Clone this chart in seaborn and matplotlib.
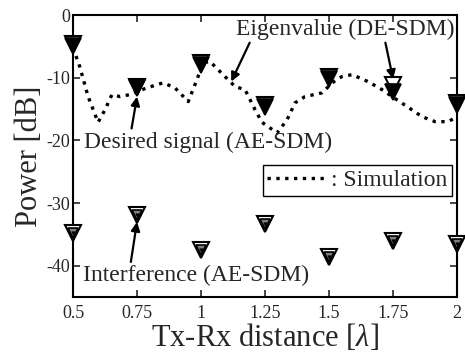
import matplotlib
matplotlib.use("Agg")
import matplotlib.pyplot as plt
import seaborn as sns
import pandas as pd

# Tx-Rx distance (wavelengths) at which the measured markers sit
distance = [0.5, 0.75, 1.0, 1.25, 1.5, 1.75, 2.0]
desired_ae = [-5.0, -11.7, -8.0, -14.6, -10.2, -12.2, -14.4]
eigen_de = [-4.6, -11.4, -7.7, -14.3, -9.8, -11.1, -14.1]
interference_ae = [-34.8, -31.9, -37.5, -33.3, -38.6, -36.0, -36.6]

# simulated eigenvalue curve
sim_distance = [0.50, 0.527, 0.559, 0.598, 0.625, 0.652, 0.684, 0.72, 0.789,
                0.852, 0.898, 0.95, 0.984, 1.008, 1.035, 1.086, 1.133, 1.172,
                1.211, 1.238, 1.297, 1.336, 1.367, 1.406, 1.473, 1.512, 1.55,
                1.59, 1.652, 1.707, 1.746, 1.805, 1.863, 1.914, 1.965, 2.0]
sim_power = [-5.2, -8.3, -13.0, -17.1, -15.1, -12.7, -13.0, -12.7, -11.6,
             -10.8, -11.6, -13.8, -10.3, -7.6, -7.4, -9.5, -11.4, -11.9,
             -15.1, -17.1, -18.8, -16.7, -14.0, -13.0, -12.4, -10.8, -9.8,
             -9.5, -10.6, -11.9, -13.0, -14.6, -16.2, -17.0, -17.0, -16.2]

xticks = [0.5, 0.75, 1.0, 1.25, 1.5, 1.75, 2.0]
xticklabels = ["0.5", "0.75", "1", "1.25", "1.5", "1.75", "2"]
yticks = [0, -10, -20, -30, -40]
yticklabels = ["0", "-10", "-20", "-30", "-40"]

sns.set_style("ticks")
plt.rcParams["font.family"] = ["Liberation Serif", "DejaVu Serif"]
plt.rcParams["mathtext.fontset"] = "custom"
plt.rcParams["mathtext.it"] = "Liberation Serif:italic"
plt.rcParams["mathtext.rm"] = "Liberation Serif"
plt.rcParams["axes.unicode_minus"] = False

fig = plt.figure(figsize=(4.65, 3.52), dpi=100)
ax = fig.add_axes([0.157, 0.156, 0.826, 0.801])

markers_df = pd.DataFrame({"d": distance, "des": desired_ae,
                           "eig": eigen_de, "intf": interference_ae})
sim_df = pd.DataFrame({"d": sim_distance, "p": sim_power})

sns.lineplot(data=sim_df, x="d", y="p", ax=ax, color="black", lw=2.4,
             linestyle=":", label=": Simulation", zorder=2, sort=False)

# eigenvalue (white) under desired signal (black)
ax.plot(markers_df["d"], markers_df["eig"], ls="none", marker="v", ms=12,
        mfc="white", mec="black", mew=1.5, zorder=3, clip_on=False)
ax.plot(markers_df["d"], markers_df["des"], ls="none", marker="v", ms=12,
        mfc="black", mec="black", mew=1.2, zorder=4, clip_on=False)

# interference: nested triangles
ax.plot(markers_df["d"], markers_df["intf"], ls="none", marker="v", ms=12,
        mfc="white", mec="black", mew=1.5, zorder=3, clip_on=False)
ax.plot(markers_df["d"], markers_df["intf"], ls="none", marker="v", ms=7.5,
        mfc="#808080", mec="black", mew=1.2, zorder=4, clip_on=False)
ax.plot(markers_df["d"], markers_df["intf"], ls="none", marker="v", ms=2.4,
        mfc="black", mec="black", mew=0.5, zorder=5, clip_on=False)

ax.set_xlim(0.5, 2.0)
ax.set_ylim(-45, 0)
ax.set_xticks(xticks)
ax.set_xticklabels(xticklabels)
ax.set_yticks(yticks)
ax.set_yticklabels(yticklabels)
ax.tick_params(direction="in", length=5, width=1.2, labelsize=13,
               top=True, right=True, pad=6)
ax.tick_params(axis="y", pad=2)
for sp in ax.spines.values():
    sp.set_linewidth(1.5)
    sp.set_color("black")
    sp.set_visible(True)

ax.set_xlabel(r"Tx-Rx distance [$\lambda$]", fontsize=22, labelpad=0)
ax.set_ylabel("Power [dB]", fontsize=22, labelpad=2)

arrow = dict(arrowstyle="-|>", color="black", lw=1.6, mutation_scale=13,
             shrinkA=0, shrinkB=0)
ax.text(1.5625, -2.3, "Eigenvalue (DE-SDM)", fontsize=17, ha="center",
        va="center")
ax.annotate("", xy=(1.118, -10.6), xytext=(1.19, -4.4), arrowprops=arrow)
ax.annotate("", xy=(1.75, -10.2), xytext=(1.72, -4.4), arrowprops=arrow)

ax.annotate("Desired signal (AE-SDM)", xy=(0.75, -13.0), xytext=(1.027, -20.3),
            fontsize=17, ha="center", va="center",
            arrowprops=dict(arrowstyle="-|>", color="black", lw=1.6,
                            mutation_scale=13, shrinkA=0, shrinkB=0,
                            relpos=(0.19, 1.0)))
ax.annotate("Interference (AE-SDM)", xy=(0.75, -33.0), xytext=(0.98, -41.6),
            fontsize=17, ha="center", va="center",
            arrowprops=dict(arrowstyle="-|>", color="black", lw=1.6,
                            mutation_scale=13, shrinkA=0, shrinkB=0,
                            relpos=(0.21, 1.0)))

leg = ax.legend(loc="upper right", bbox_to_anchor=(0.987, 0.468), fontsize=17,
                frameon=True, fancybox=False, edgecolor="black",
                handlelength=2.4, handletextpad=0.3, borderpad=0.2,
                borderaxespad=0)
leg.get_frame().set_linewidth(1.0)
leg.get_frame().set_alpha(1)

fig.savefig("out.png", dpi=100)
